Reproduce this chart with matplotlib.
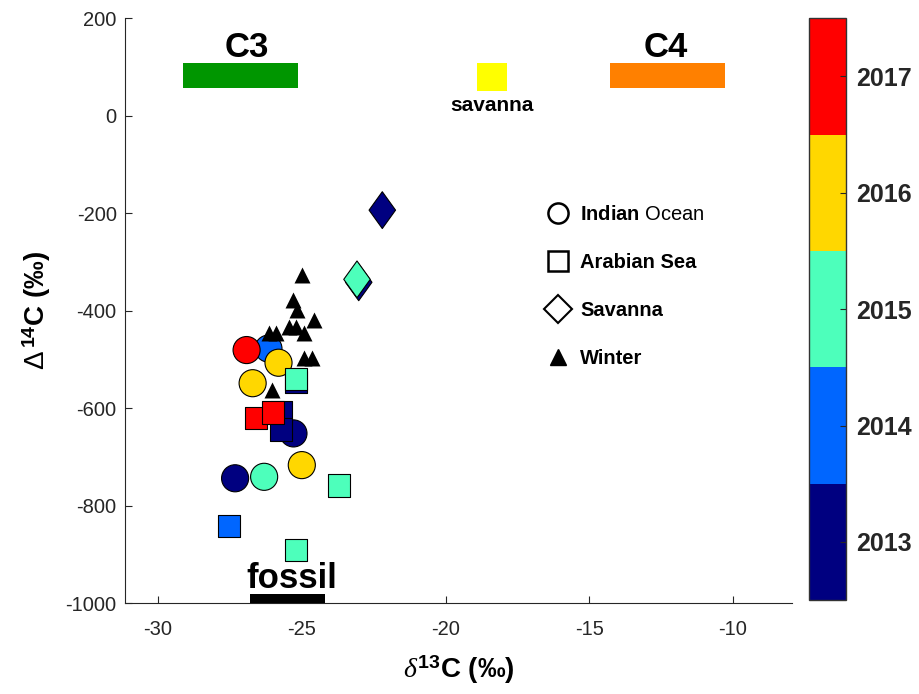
import matplotlib
matplotlib.use("Agg")
import matplotlib.pyplot as plt
from matplotlib.colors import ListedColormap, BoundaryNorm
from matplotlib.lines import Line2D
from matplotlib.path import Path

plt.rcParams['font.family'] = ['Liberation Sans', 'DejaVu Sans']
plt.rcParams['mathtext.fontset'] = 'custom'
plt.rcParams['mathtext.rm'] = 'Liberation Sans'
plt.rcParams['mathtext.bf'] = 'Liberation Sans:bold'
plt.rcParams['mathtext.it'] = 'Liberation Serif:italic'
plt.rcParams['axes.unicode_minus'] = False

# Indian Ocean samples (circles)
io_d13c = [-27.32, -25.29, -26.16, -26.31, -26.92, -25.81, -26.71, -25.00]
io_d14c = [-744, -652, -478, -741, -481, -507, -549, -717]
io_year = [2013, 2013, 2014, 2015, 2017, 2016, 2016, 2016]

# Arabian Sea samples (squares)
as_d13c = [-25.20, -25.72, -25.73, -27.52, -25.20, -23.70, -25.20, -26.60, -26.00]
as_d14c = [-547, -608, -644, -842, -541, -759, -891, -621, -609]
as_year = [2013, 2013, 2013, 2014, 2015, 2015, 2015, 2017, 2017]

# Savanna samples (diamonds)
sav_d13c = [-22.20, -23.02, -23.08]
sav_d14c = [-194, -342, -336]
sav_year = [2013, 2013, 2015]

# Winter samples (black triangles)
win_d13c = [-25.00, -25.29, -25.15, -24.57, -25.43, -25.20, -24.92, -26.13,
            -25.89, -24.94, -24.65, -26.04]
win_d14c = [-327, -378, -399, -419, -433, -433, -447, -446, -446, -498,
            -498, -563]

# source end-member ranges
src_names = ['C3', 'savanna', 'C4', 'fossil']
src_lo = [-29.13, -18.92, -14.27, -26.80]
src_hi = [-25.12, -17.87, -10.27, -24.19]
src_bottom = [57, 50, 57, -1000]
src_top = [108, 108, 108, -981]
src_colors = ['#009600', '#ffff00', '#ff8000', '#000000']

years = [2013, 2014, 2015, 2016, 2017]
year_colors = ['#000080', '#0066ff', '#4dffbb', '#ffd700', '#ff0000']

cmap = ListedColormap(year_colors)
norm = BoundaryNorm([2012.5, 2013.5, 2014.5, 2015.5, 2016.5, 2017.5], cmap.N)

# elongated diamond like the original
diamond = Path([(0, 1), (0.72, 0), (0, -1), (-0.72, 0), (0, 1)],
               [Path.MOVETO, Path.LINETO, Path.LINETO, Path.LINETO, Path.CLOSEPOLY])

fig = plt.figure(figsize=(9.19, 6.94), dpi=100)
ax = fig.add_axes([0.136, 0.131, 0.7258, 0.843])

ax.bar(src_lo, [t - b for t, b in zip(src_top, src_bottom)],
       width=[h - l for h, l in zip(src_hi, src_lo)], bottom=src_bottom,
       align='edge', color=src_colors, linewidth=0, zorder=2.6)

# end-member labels
ax.text(-26.92, 120, src_names[0], ha='center', va='baseline',
        fontsize=25, fontweight='bold')
ax.text(-18.37, 10, src_names[1], ha='center', va='baseline',
        fontsize=15, fontweight='bold')
ax.text(-12.35, 120, src_names[2], ha='center', va='baseline',
        fontsize=25, fontweight='bold')
ax.text(-25.34, -970, src_names[3], ha='center', va='baseline',
        fontsize=25, fontweight='bold')

sc = ax.scatter(io_d13c, io_d14c, c=io_year, cmap=cmap, norm=norm, marker='o',
                s=19.5 ** 2, edgecolors='black', linewidths=0.8, zorder=3)
ax.scatter(as_d13c, as_d14c, c=as_year, cmap=cmap, norm=norm, marker='s',
           s=16 ** 2, edgecolors='black', linewidths=0.8, zorder=4)
ax.scatter(sav_d13c, sav_d14c, c=sav_year, cmap=cmap, norm=norm, marker=diamond,
           s=26.5 ** 2, edgecolors='black', linewidths=0.8, zorder=4)
ax.scatter(win_d13c, win_d14c, c='black', marker='^', s=11.5 ** 2,
           linewidths=0, zorder=5)

ax.set_xlim(-31.15, -7.95)
ax.set_ylim(-1000, 200)
ax.set_xticks([-30, -25, -20, -15, -10])
ax.set_yticks([-1000, -800, -600, -400, -200, 0, 200])
ax.tick_params(direction='in', length=5, width=0.8, colors='#262626',
               labelsize=14.5, pad=6)
ax.tick_params(axis='x', pad=12)
for side in ['top', 'right']:
    ax.spines[side].set_visible(False)
for side in ['left', 'bottom']:
    ax.spines[side].set_color('#262626')
    ax.spines[side].set_linewidth(0.8)

ax.set_xlabel(r'$\delta^{\mathbf{13}}$C (‰)', fontsize=20, fontweight='bold',
              labelpad=11)
ax.set_ylabel(r'$\mathrm{\Delta}\,{}^{\mathbf{14}}$C (‰)', fontsize=20,
              fontweight='bold', labelpad=9)

handles = [
    Line2D([], [], ls='none', marker='o', ms=14.5, mfc='white', mec='black', mew=1.8),
    Line2D([], [], ls='none', marker='s', ms=14.5, mfc='white', mec='black', mew=1.8),
    Line2D([], [], ls='none', marker='D', ms=14, mfc='white', mec='black', mew=1.5),
    Line2D([], [], ls='none', marker='^', ms=12, mfc='black', mec='black'),
]
labels = [r'Indian $\mathrm{Ocean}$', 'Arabian Sea', 'Savanna', 'Winter']
ax.legend(handles, labels, loc='upper left', bbox_to_anchor=(0.63, 0.681),
          frameon=False, borderpad=0, borderaxespad=0, handlelength=1.3,
          handletextpad=0.45, labelspacing=1.45,
          prop={'weight': 'bold', 'size': 14.5})

cax = fig.add_axes([0.8803, 0.1354, 0.0403, 0.8382])
cb = fig.colorbar(sc, cax=cax, ticks=years)
cb.minorticks_off()
cb.outline.set_edgecolor('#333333')
cb.outline.set_linewidth(1.0)
cax.tick_params(direction='in', length=4, width=0.8, colors='#262626', pad=7)
for t in cax.get_yticklabels():
    t.set_fontsize(18)
    t.set_fontweight('bold')

fig.savefig('out.png', dpi=100)
